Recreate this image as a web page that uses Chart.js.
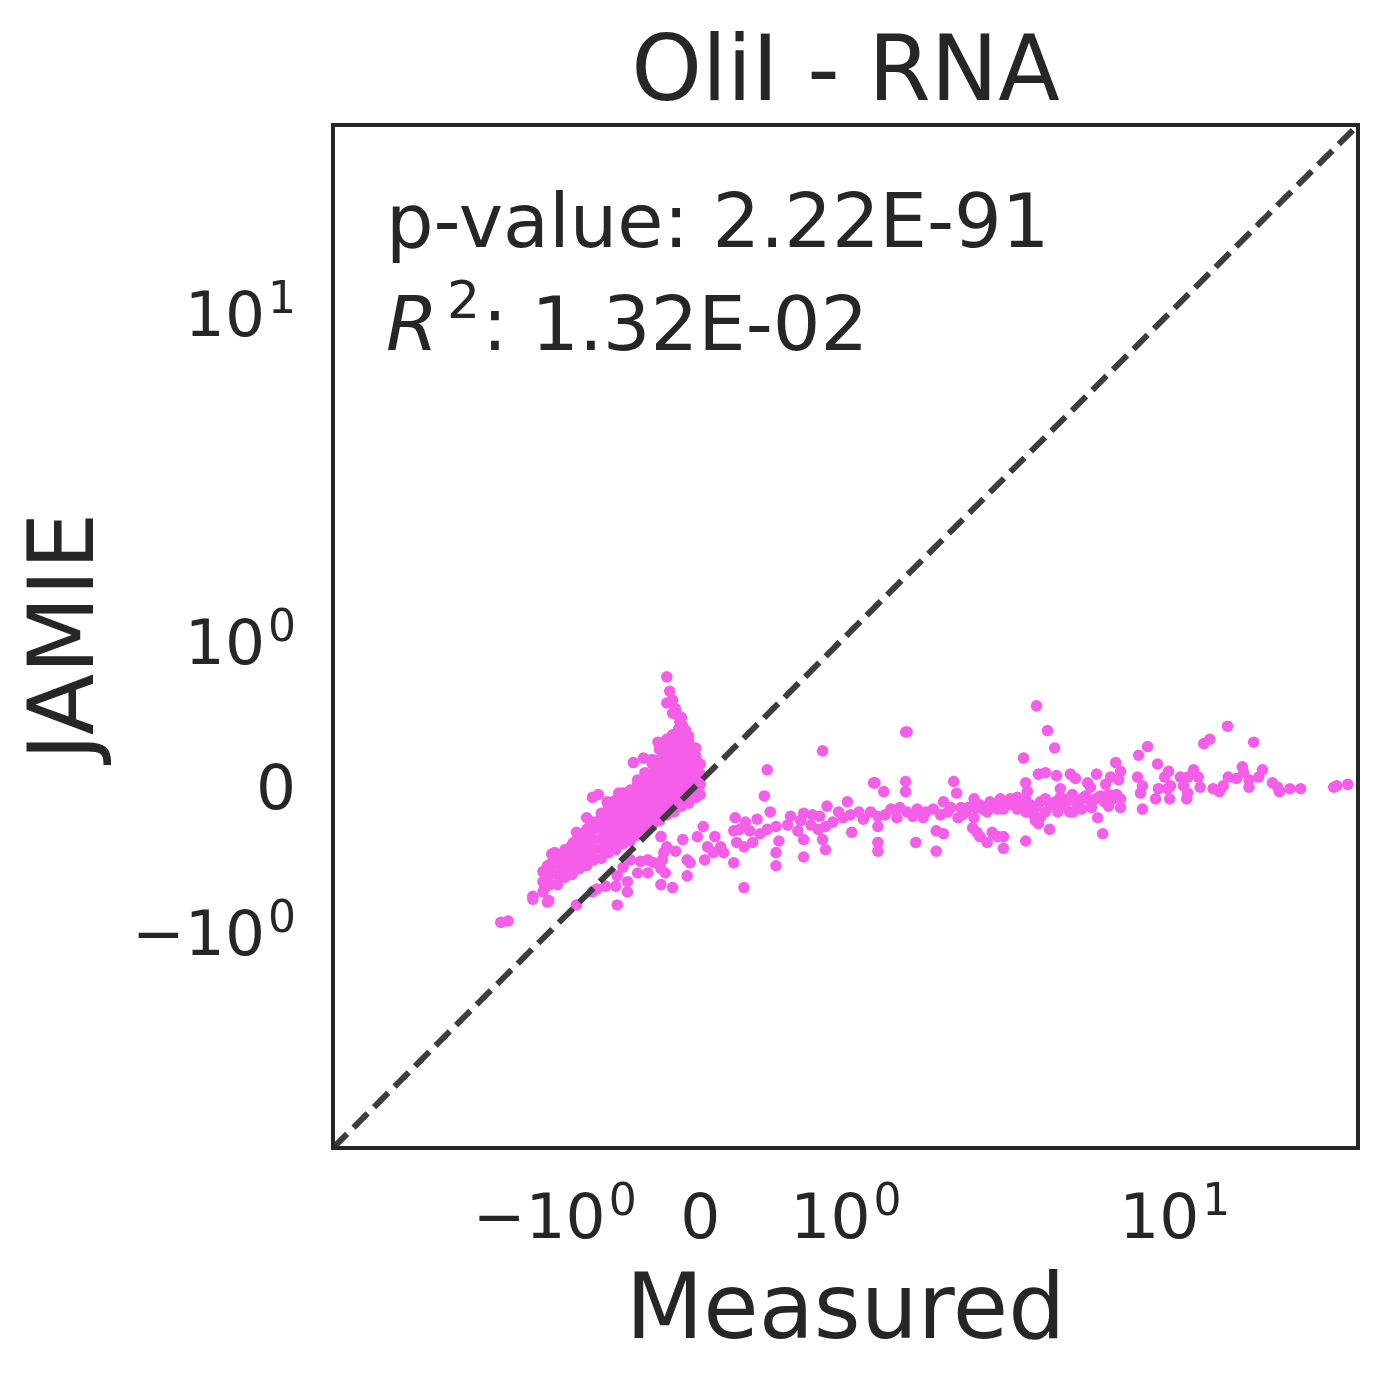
<!DOCTYPE html>
<html lang="en">
<head>
  <meta charset="UTF-8" />
  <title>OliI - RNA</title>
  <script src="https://cdn.jsdelivr.net/npm/chart.js"></script>
  <style>
    body { margin: 0; background: #fff; }
    #wrap { width: 1388px; height: 1387px; }
  </style>
</head>
<body>
  <div id="wrap"><canvas id="plot" width="1388" height="1387"></canvas></div>

  <script>
    const titleText = "OliI - RNA";
    const xLabel = "Measured";
    const yLabel = "JAMIE";
    const pText = "p-value: 2.22E-91";
    const r2Text = ": 1.32E-02";
    const axisMin = -3.9, axisMax = 50;
    const tickValues = [-1, 0, 1, 10];
    const tickBase = ["\u221210", "0", "10", "10"];
    const tickExp = ["0", "", "0", "1"];

    // dense wedge near the origin, read column by column
    const corePoints = [
      [-1.08,-0.76],[-1.08,-0.69],[-1.08,-0.62],
      [-1.03,-0.71],[-1.03,-0.64],[-1.03,-0.57],
      [-0.98,-0.71],[-0.98,-0.64],[-0.98,-0.57],[-0.98,-0.52],
      [-0.93,-0.66],[-0.93,-0.59],[-0.93,-0.52],[-0.93,-0.47],
      [-0.88,-0.64],[-0.88,-0.57],[-0.88,-0.50],[-0.88,-0.44],
      [-0.83,-0.60],[-0.83,-0.53],[-0.83,-0.46],[-0.83,-0.39],
      [-0.78,-0.58],[-0.78,-0.51],[-0.78,-0.44],[-0.78,-0.37],[-0.78,-0.33],
      [-0.73,-0.54],[-0.73,-0.47],[-0.73,-0.40],[-0.73,-0.33],[-0.73,-0.28],
      [-0.68,-0.53],[-0.68,-0.46],[-0.68,-0.39],[-0.68,-0.32],[-0.68,-0.25],[-0.68,-0.22],
      [-0.63,-0.49],[-0.63,-0.42],[-0.63,-0.35],[-0.63,-0.28],[-0.63,-0.21],[-0.63,-0.17],
      [-0.58,-0.47],[-0.58,-0.40],[-0.58,-0.33],[-0.58,-0.26],[-0.58,-0.19],[-0.58,-0.13],
      [-0.53,-0.43],[-0.53,-0.36],[-0.53,-0.29],[-0.53,-0.22],[-0.53,-0.15],[-0.53,-0.08],
      [-0.48,-0.41],[-0.48,-0.34],[-0.48,-0.27],[-0.48,-0.20],[-0.48,-0.13],[-0.48,-0.06],
      [-0.43,-0.37],[-0.43,-0.30],[-0.43,-0.23],[-0.43,-0.16],[-0.43,-0.09],[-0.43,-0.02],[-0.43,0.01],
      [-0.38,-0.33],[-0.38,-0.26],[-0.38,-0.19],[-0.38,-0.12],[-0.38,-0.05],[-0.38,0.02],[-0.38,0.06],
      [-0.33,-0.30],[-0.33,-0.23],[-0.33,-0.16],[-0.33,-0.09],[-0.33,-0.02],[-0.33,0.05],[-0.33,0.12],[-0.33,0.15],
      [-0.28,-0.27],[-0.28,-0.20],[-0.28,-0.13],[-0.28,-0.06],[-0.28,0.01],[-0.28,0.08],[-0.28,0.15],[-0.28,0.22],[-0.28,0.26],
      [-0.23,-0.23],[-0.23,-0.16],[-0.23,-0.09],[-0.23,-0.02],[-0.23,0.05],[-0.23,0.12],[-0.23,0.19],[-0.23,0.26],[-0.23,0.29],
      [-0.18,-0.21],[-0.18,-0.14],[-0.18,-0.07],[-0.18,0.00],[-0.18,0.07],[-0.18,0.14],[-0.18,0.21],[-0.18,0.28],
      [-0.13,-0.17],[-0.13,-0.10],[-0.13,-0.03],[-0.13,0.04],[-0.13,0.11],[-0.13,0.18],[-0.13,0.25],[-0.13,0.31],
      [-0.08,-0.15],[-0.08,-0.08],[-0.08,-0.01],[-0.08,0.06],[-0.08,0.13],[-0.08,0.20],[-0.08,0.27],[-0.08,0.31],
      [-0.03,-0.11],[-0.03,-0.04],[-0.03,0.03],[-0.03,0.10],[-0.03,0.17],[-0.03,0.23],
      [0.00,-0.09],[0.00,-0.02],[0.00,0.05],[0.00,0.12]
    ];

    // spike above the wedge and scattered points around it
    const spreadPoints = [
      [-0.23,0.72],[-0.21,0.62],[-0.23,0.54],[-0.19,0.56],[-0.19,0.47],[-0.16,0.46],
      [-0.17,0.50],[-0.14,0.41],[-0.12,0.38],[-0.13,0.44],[-0.19,0.32],[-0.15,0.36],
      [-0.10,0.35],[-0.29,0.27],
      [0.02,-0.31],[0.10,-0.38],[-0.02,-0.38],[-0.12,-0.40],[0.05,-0.45],[0.09,-0.49],
      [0.03,-0.54],[-0.09,-0.54],[-0.07,-0.56],[-0.17,-0.48],[-0.23,-0.45],[-0.27,-0.38],
      [-0.25,-0.49],[-0.26,-0.54],[-0.32,-0.56],[-0.36,-0.54],[-0.41,-0.55],[-0.48,-0.54],
      [-0.43,-0.63],[-0.36,-0.63],[-0.27,-0.60],[-0.24,-0.63],[-0.09,-0.65],[-0.19,-0.73],
      [-0.27,-0.71],[-0.50,-0.69],[-0.50,-0.76],[-0.57,-0.85],[-0.53,-0.59],[-0.57,-0.65],
      [-0.58,-0.72],[-0.65,-0.72],[-0.71,-0.74],[-0.74,-0.76],[-0.85,-0.85],[-1.05,-0.83],
      [-1.15,-0.81],[-1.15,-0.79],[-1.37,-0.97],[-1.32,-0.96],
      [-0.46,0.13],[-0.39,0.16],[-0.74,-0.11],[-0.70,-0.09],[-0.64,-0.14],[-0.60,-0.14],
      [-0.56,-0.08],[-0.78,-0.25],[-0.76,-0.31],[-0.85,-0.35],[-1.00,-0.49],[-1.02,-0.50],
      [-1.05,-0.58],[-1.03,-0.63],[-1.07,-0.74],[-1.04,-0.82],[-0.89,-0.45],[-0.87,-0.42]
    ];

    // long tail to the right
    const tailPoints = [
      [0.84,0.21],[1.42,0.34],[1.41,0.34],[0.46,0.08],[0.44,-0.10],[0.48,-0.21],[2.65,0.16],
      [1.19,-0.01],[1.20,-0.01],[1.26,-0.07],[1.41,0.00],[1.41,-0.07],[1.74,0.00],[1.76,-0.08],
      [0.24,-0.25],[0.23,-0.34],[0.27,-0.33],[0.34,-0.34],[0.14,-0.45],[0.16,-0.49],[0.23,-0.56],
      [0.30,-0.73],[0.25,-0.42],[0.30,-0.45],[0.36,-0.42],[0.41,-0.36],[0.46,-0.33],[0.52,-0.31],
      [0.54,-0.41],[0.52,-0.49],[0.52,-0.58],[0.60,-0.30],[0.67,-0.34],[0.71,-0.40],[0.71,-0.52],
      [0.71,-0.22],[0.76,-0.30],[0.81,-0.33],[0.86,-0.31],[0.87,-0.17],[0.86,-0.47],[0.84,-0.40],
      [0.91,-0.28],[0.98,-0.25],[1.01,-0.14],[1.03,-0.23],[1.04,-0.35],[1.12,-0.26],[1.22,-0.24],
      [1.22,-0.31],[1.22,-0.42],[1.22,-0.48],[1.31,-0.19],[1.35,-0.25],[1.42,-0.21],[1.49,-0.19],
      [1.53,-0.25],[1.60,-0.19],[1.67,-0.14],[1.70,-0.21],[1.77,-0.25],[1.48,-0.42],[1.62,-0.34],
      [1.67,-0.36],[1.62,-0.48],[1.84,-0.18],[1.88,-0.12],[1.88,-0.25],[1.87,-0.32],[1.90,-0.35],
      [1.92,-0.38],[1.97,-0.42],[2.01,-0.35],[2.11,-0.38],[2.22,-0.38],[2.22,-0.46],[1.97,-0.21],
      [2.02,-0.17],[2.22,-0.19],[2.36,-0.12],[2.51,-0.11],[2.65,-0.17],[2.74,-0.21],[2.70,-0.41],
      [2.70,-0.01],[2.74,-0.07],
      [0.82,-0.24],[0.95,-0.21],[1.09,-0.21],[1.17,-0.21],[1.27,-0.23],[1.37,-0.18],[1.46,-0.24],
      [1.55,-0.21],[1.65,-0.23],[1.72,-0.18],[1.80,-0.23],[1.92,-0.16],[1.99,-0.14],[2.16,-0.12],
      [2.40,-0.16],[0.31,-0.28],[0.39,-0.26],[0.62,-0.24],[0.69,-0.27],[0.77,-0.23],
      [1.79,-0.18],[1.82,-0.21],[1.89,-0.18],[1.94,-0.19],[1.99,-0.16],[2.11,-0.19],[2.26,-0.16],
      [2.40,-0.14],[2.51,-0.19],
      [2.97,0.52],[3.27,0.35],[3.48,0.23],[3.02,0.05],[3.21,0.06],[3.54,0.04],[2.94,-0.27],
      [3.02,-0.29],[3.33,-0.33],[3.97,-0.21],[4.41,-0.19],[4.81,-0.18],[5.08,-0.25],[5.31,-0.36],
      [5.59,-0.17],[6.21,-0.18],[4.00,0.05],[4.18,0.02],[4.65,-0.01],[5.03,0.05],[5.69,0.03],
      [5.95,0.13],[6.21,0.07],[6.11,0.01],[7.28,0.18],[7.88,0.24],[8.60,0.12],[7.21,0.03],
      [7.53,-0.03],[7.40,-0.08],[7.53,-0.19],[8.45,-0.12],[8.67,-0.05],[9.15,0.03],[9.47,0.07],
      [9.64,-0.03],[9.56,-0.12],[9.39,-0.05],[10.5,0.03],[11.2,0.03],[11.8,0.08],[12.3,0.03],
      [12.5,-0.04],[10.8,-0.03],[11.2,-0.08],[11.1,-0.12],[12.9,0.26],[13.6,0.29],[14.0,-0.05],
      [14.8,-0.07],[15.3,-0.03],[15.9,0.38],[16.0,0.03],[17.2,0.02],[18.1,0.10],[18.3,0.06],
      [19.2,0.01],[19.2,-0.04],[20.0,0.27],[20.9,0.03],[21.6,0.08],[23.6,-0.01],[24.7,-0.04],
      [25.1,-0.07],[27.5,-0.05],[30.2,-0.05],[40.4,-0.04],[41.5,-0.03],[45.7,-0.02],
      [2.58,-0.16],[2.70,-0.12],[2.81,-0.16],[2.94,-0.18],[3.07,-0.14],[3.21,-0.12],[3.36,-0.16],
      [3.51,-0.14],[3.66,-0.11],[3.80,-0.16],[3.93,-0.12],[4.07,-0.09],[4.18,-0.14],[4.41,-0.12],
      [4.57,-0.10],[4.77,-0.14],[4.99,-0.12],[5.21,-0.10],[5.40,-0.14],[5.59,-0.09],[5.79,-0.12],
      [6.00,-0.09],[6.21,-0.12],[3.66,-0.05],[4.77,-0.04],[5.45,-0.02],[2.89,-0.23],[3.21,-0.21],
      [3.58,-0.21],[2.70,-0.21],[3.07,-0.25],[4.10,-0.21]
    ];

    // matplotlib-style symlog: linthresh 2, linscale 1, base 10
    const LINTHRESH = 2;
    const LINSCALE_ADJ = 1 / (1 - 1 / 10);

    function symlog(v) {
      const a = Math.abs(v);
      if (a <= LINTHRESH) return v * LINSCALE_ADJ;
      return Math.sign(v) * LINTHRESH * (LINSCALE_ADJ + Math.log10(a / LINTHRESH));
    }

    function symexp(t) {
      const a = Math.abs(t);
      if (a <= LINTHRESH * LINSCALE_ADJ) return t / LINSCALE_ADJ;
      return Math.sign(t) * LINTHRESH * Math.pow(10, a / LINTHRESH - LINSCALE_ADJ);
    }

    class SymlogScale extends Chart.Scale {
      determineDataLimits() {
        this.min = this.options.min;
        this.max = this.options.max;
      }
      buildTicks() {
        return tickValues.map(v => ({ value: v }));
      }
      getLabelForValue(v) {
        return String(v);
      }
      configure() {
        super.configure();
        this._tMin = symlog(this.min);
        this._tMax = symlog(this.max);
      }
      getPixelForValue(v) {
        return this.getPixelForDecimal((symlog(v) - this._tMin) / (this._tMax - this._tMin));
      }
      getValueForPixel(p) {
        const d = this.getDecimalForPixel(p);
        return symexp(this._tMin + d * (this._tMax - this._tMin));
      }
    }
    SymlogScale.id = 'symlog';
    SymlogScale.defaults = {};
    Chart.register(SymlogScale);

    const toXY = arr => arr.map(p => ({ x: p[0], y: p[1] }));
    const allPoints = [...toXY(corePoints), ...toXY(spreadPoints), ...toXY(tailPoints)];

    const ink = '#262626';
    const FONT = '"DejaVu Sans"';

    // mathtext-like "10^k" label: base digits plus a raised exponent
    function tickLabel(ctx, i, x, baseline, align) {
      const base = tickBase[i], exp = tickExp[i];
      ctx.font = '63px ' + FONT;
      const wBase = ctx.measureText(base).width;
      ctx.font = '44px ' + FONT;
      const wExp = exp ? ctx.measureText(exp).width + 3 : 0;
      const w = wBase + wExp;
      const left = align === 'center' ? x - w / 2 : x - w;
      ctx.textAlign = 'left';
      ctx.font = '63px ' + FONT;
      ctx.fillText(base, left, baseline);
      if (exp) {
        ctx.font = '44px ' + FONT;
        ctx.fillText(exp, left + wBase + 3, baseline - 23);
      }
    }

    const decor = {
      id: 'decor',
      afterDraw(chart) {
        const { ctx, chartArea: a } = chart;
        const cx = (a.left + a.right) / 2;
        const cy = (a.top + a.bottom) / 2;
        ctx.save();
        ctx.strokeStyle = ink;
        ctx.lineWidth = 4;
        ctx.strokeRect(a.left, a.top, a.right - a.left, a.bottom - a.top);

        ctx.fillStyle = ink;
        ctx.textBaseline = 'alphabetic';

        // tick labels placed by the symlog scales
        const xs = chart.scales.x, ys = chart.scales.y;
        xs.ticks.forEach((t, i) => tickLabel(ctx, i, xs.getPixelForValue(t.value), a.bottom + 90, 'center'));
        ys.ticks.forEach((t, i) => tickLabel(ctx, i, a.left - 37, ys.getPixelForValue(t.value) + 28, 'right'));

        ctx.textAlign = 'center';
        ctx.font = '90px ' + FONT;
        ctx.fillText(titleText, cx, 100);
        ctx.fillText(xLabel, cx, 1338);
        ctx.save();
        ctx.translate(93, cy);
        ctx.rotate(-Math.PI / 2);
        ctx.fillText(yLabel, 0, 0);
        ctx.restore();

        // annotation text
        ctx.textAlign = 'left';
        ctx.font = '75px ' + FONT;
        ctx.fillText(pText, 386, 247);
        ctx.font = 'italic 75px ' + FONT;
        ctx.fillText('R', 386, 350);
        let x = 386 + ctx.measureText('R').width + 9;
        ctx.font = '52px ' + FONT;
        ctx.fillText('2', x, 318);
        x += ctx.measureText('2').width + 2;
        ctx.font = '75px ' + FONT;
        ctx.fillText(r2Text, x, 350);
        ctx.restore();
      }
    };

    new Chart(document.getElementById('plot'), {
      type: 'scatter',
      data: {
        datasets: [
          {
            data: [{ x: axisMin, y: axisMin }, { x: axisMax, y: axisMax }],
            showLine: true,
            borderColor: '#3d3d3d',
            borderWidth: 6,
            borderDash: [20, 9],
            pointRadius: 0,
            order: 0
          },
          {
            data: allPoints,
            backgroundColor: '#f45ee8',
            borderWidth: 0,
            pointRadius: 5.8,
            order: 1
          }
        ]
      },
      options: {
        responsive: false,
        animation: false,
        devicePixelRatio: 1,
        layout: { padding: { top: 125, right: 30, left: 0, bottom: 0 } },
        plugins: { legend: { display: false }, tooltip: { enabled: false } },
        scales: {
          x: {
            type: 'symlog',
            min: axisMin,
            max: axisMax,
            grid: { display: false, drawTicks: false },
            border: { display: false },
            ticks: { display: false },
            afterFit: s => { s.height = 239; }
          },
          y: {
            type: 'symlog',
            min: axisMin,
            max: axisMax,
            grid: { display: false, drawTicks: false },
            border: { display: false },
            ticks: { display: false },
            afterFit: s => { s.width = 333; }
          }
        }
      },
      plugins: [decor]
    });
  </script>
</body>
</html>
